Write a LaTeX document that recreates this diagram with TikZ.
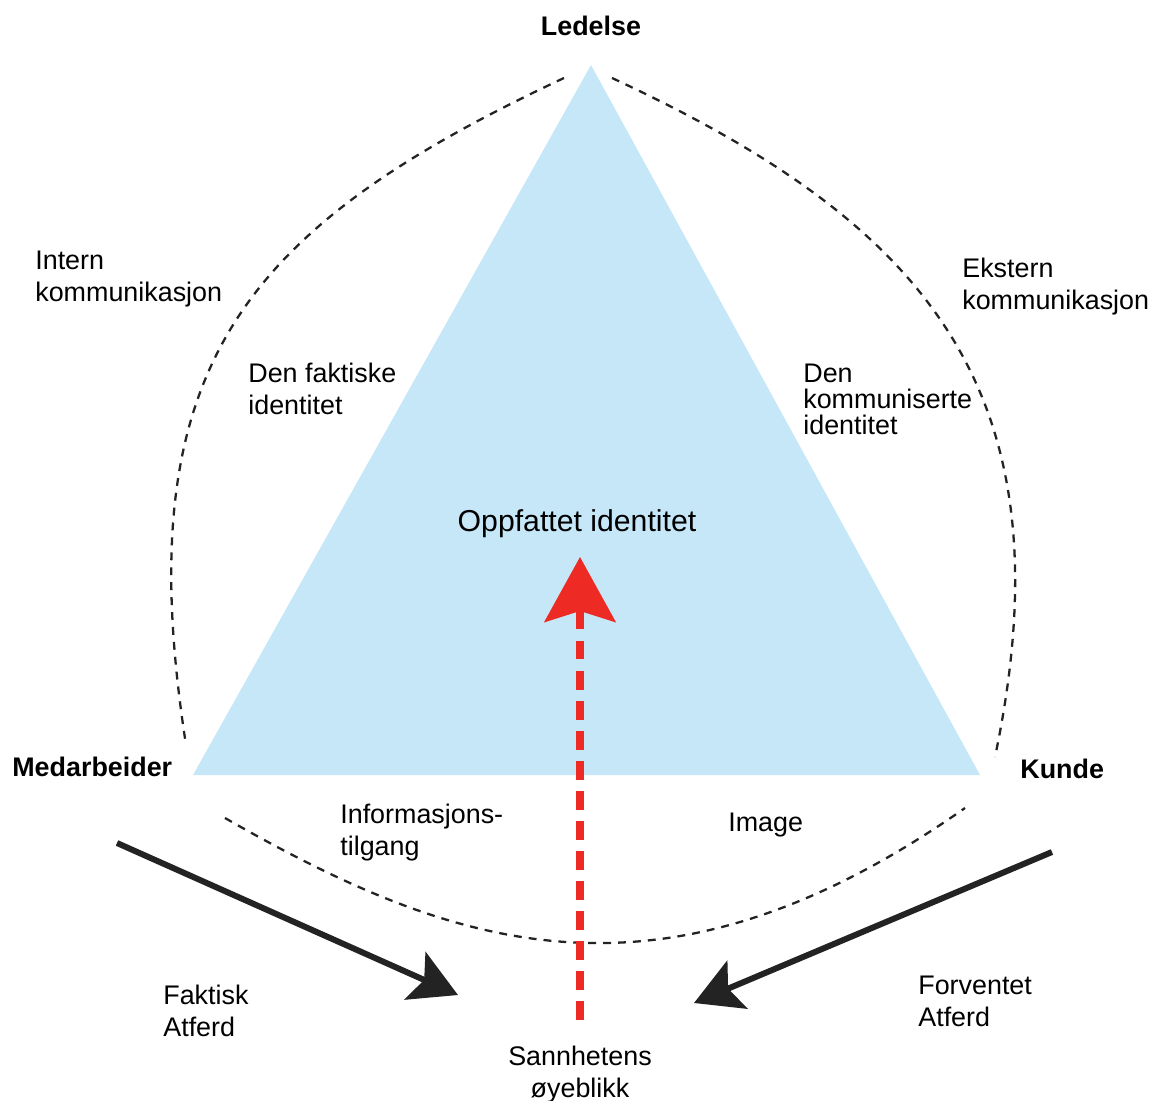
\documentclass[tikz,border=0pt]{standalone}
\usepackage{fontspec}
\setmainfont{Liberation Sans}
\usetikzlibrary{arrows.meta}

\definecolor{identblaa}{RGB}{198,231,248}
\definecolor{sannrod}{RGB}{238,42,36}
\definecolor{mork}{RGB}{35,35,35}

\tikzset{
  tekst/.style={inner sep=0pt, align=left, anchor=west, font=\fontsize{15.3}{18.2}\selectfont},
  hjorne/.style={inner sep=0pt, font=\fontsize{15.3}{18.2}\selectfont\bfseries},
  ring/.style={mork, line width=1.3pt, dash pattern=on 4.5pt off 4pt},
  atferd/.style={mork, line width=3.4pt, -{Stealth[length=0.94cm,width=1.04cm,inset=0.2cm]}},
}

\begin{document}
\begin{tikzpicture}[x=0.02cm, y=-0.02cm]
            \useasboundingbox (0,0) rectangle (1153,1101);

            % Trekanten
            \coordinate (topp) at (591,65);
            \coordinate (venstre) at (193,775);
            \coordinate (hoyre) at (980,775);
            \fill[identblaa] (topp) -- (venstre) -- (hoyre) -- cycle;

            % Stiplede buer
            \draw[ring] (564,78) .. controls (238,231) and (128,370) .. (186,745);
            \draw[ring] (612,78) .. controls (920,221) and (1073,385) .. (995,757);
            \draw[ring] (225,818) .. controls (452,948) and (660,1022) .. (965,808);

            % Hjorner
            \node[hjorne] (ledelse) at (591,26) {Ledelse};
            \node[hjorne, anchor=west] (medarbeider) at (12,767) {Medarbeider};
            \node[hjorne, anchor=west] (kunde) at (1020,769) {Kunde};

            % Etiketter
            \node[tekst] (intern) at (35,279) {Intern\\kommunikasjon};
            \node[tekst] (ekstern) at (962,287) {Ekstern\\kommunikasjon};
            \node[tekst] (faktisk) at (248,389) {Den faktiske\\identitet};
            \node[tekst, font=\fontsize{15.3}{14.8}\selectfont] (kommunisert) at (803,399) {Den\\kommuniserte\\identitet};
            \node[inner sep=0pt, font=\fontsize{17.2}{20}\selectfont] (oppfattet) at (577,524) {Oppfattet identitet};
            \node[tekst] (info) at (340,833) {Informasjons-\\tilgang};
            \node[tekst] (image) at (728,825) {Image};
            \node[tekst] (fatferd) at (163,1011) {Faktisk\\Atferd};
            \node[tekst] (forventet) at (918,1001) {Forventet\\Atferd};
            \node[tekst, anchor=center, align=center] (sannhet) at (580,1075) {Sannhetens\\øyeblikk};

            % Piler
            \coordinate (fstart) at (117,843);
            \coordinate (fspiss) at (458,995);
            \coordinate (kstart) at (1052,852);
            \coordinate (kspiss) at (694,1003);
            \draw[atferd] (fstart) -- (fspiss);
            \draw[atferd] (kstart) -- (kspiss);

            \coordinate (rbunn) at (580,1020);
            \coordinate (rspiss) at (580,557);
            \draw[sannrod, line width=4pt, dash pattern=on 10.8pt off 6.3pt,
                  -{Stealth[length=1.3cm,width=1.42cm,inset=0.22cm]}] (rbunn) -- (rspiss);
        \end{tikzpicture}
\end{document}
